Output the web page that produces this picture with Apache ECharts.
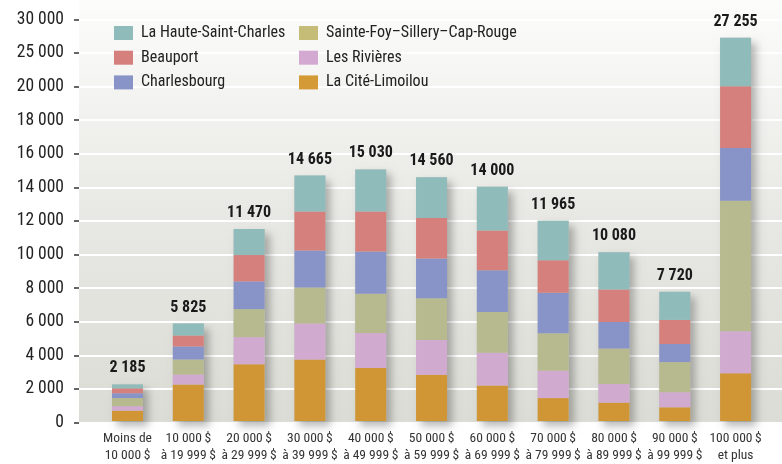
<!DOCTYPE html>
<html><head><meta charset="utf-8">
<script src="https://cdn.jsdelivr.net/npm/echarts@6/dist/echarts.min.js"></script>
<style>html,body{margin:0;padding:0;background:#fff}#c{width:782px;height:464px}</style>
</head><body><div id="c"></div>
<script>
const categories = ['Moins de\n10 000\u2009$','10 000\u2009$\nà 19 999\u2009$','20 000\u2009$\nà 29 999\u2009$','30 000\u2009$\nà 39 999\u2009$','40 000\u2009$\nà 49 999\u2009$','50 000\u2009$\nà 59 999\u2009$','60 000\u2009$\nà 69 999\u2009$','70 000\u2009$\nà 79 999\u2009$','80 000\u2009$\nà 89 999\u2009$','90 000\u2009$\nà 99 999\u2009$','100 000\u2009$\net plus'];
const totals = [2185, 5825, 11470, 14665, 15030, 14560, 14000, 11965, 10080, 7720, 27255];
// bottom to top
const laCiteLimoilou   = [620, 2180, 3390, 3680, 3160, 2770, 2120, 1370, 1100, 820, 2860];
const lesRivieres      = [270, 600, 1620, 2150, 2100, 2075, 1960, 1630, 1115, 900, 2500];
const sainteFoy        = [480, 895, 1675, 2150, 2340, 2490, 2435, 2240, 2115, 1800, 7800];
const charlesbourg     = [290, 780, 1655, 2210, 2520, 2370, 2495, 2420, 1585, 1080, 3150];
const beauport         = [290, 655, 1575, 2330, 2400, 2430, 2375, 1940, 1935, 1440, 3690];
const hauteSaintCharles= [235, 715, 1555, 2145, 2510, 2425, 2615, 2365, 2230, 1680, 7255];
const yTickLabels = ['0','2 000','4 000','6 000','8 000','10 000','12 000','14 000','16 000','18 000','20 000','25 000','30 000'];

const seriesDefs = [
  {name:'La Cité-Limoilou', data:laCiteLimoilou, color:'#d09636', legend:'#d39a36'},
  {name:'Les Rivières', data:lesRivieres, color:'#d0aacf', legend:'#d3a9d2'},
  {name:'Sainte-Foy–Sillery–Cap-Rouge', data:sainteFoy, color:'#b7b98f', legend:'#c5bc78'},
  {name:'Charlesbourg', data:charlesbourg, color:'#8893c7', legend:'#8893c7'},
  {name:'Beauport', data:beauport, color:'#d5807c', legend:'#d5807c'},
  {name:'La Haute-Saint-Charles', data:hauteSaintCharles, color:'#8fbbbb', legend:'#8fbbbb'}
];
// broken scale: above 20 000, 5 000 units take the space of 2 000
function T(v){ return v <= 20000 ? v : 20000 + (v - 20000) * 0.4; }
function fmt(v){ return String(Math.round(v)).replace(/\B(?=(\d{3})+(?!\d))/g, ' '); }

const FONT = '"Roboto Condensed","Open Sans",sans-serif';
const cum = categories.map(()=>0);
const series = [];
series.push({
  type:'bar', name:'_total', xAxisIndex:0, yAxisIndex:0, barWidth:31, barGap:'-100%', z:1,
  data: totals.map(t=>T(t)),
  itemStyle:{color:'#c8c8c2', shadowBlur:8, shadowOffsetX:5, shadowOffsetY:5, shadowColor:'rgba(0,0,0,0.28)'},
  label:{show:true, position:'top', distance:8, fontFamily:FONT, fontSize:16, fontWeight:'bold', color:'#1a1a1a',
         formatter:p=>fmt(totals[p.dataIndex])},
  silent:true
});
seriesDefs.forEach(s=>{
  const d = s.data.map((v,i)=>{ const a=T(cum[i]); cum[i]+=v; return T(cum[i])-a; });
  series.push({type:'bar', name:s.name, stack:'a', xAxisIndex:0, yAxisIndex:0, barWidth:31, barGap:'-100%', z:2,
    data:d, itemStyle:{color:s.color}});
});

const legendItem = s => ({name:s.name, itemStyle:{color:s.legend}});
const chart = echarts.init(document.getElementById('c'), null, {renderer:'canvas'});
chart.setOption({
  animation:false,
  backgroundColor:'#ffffff',
  graphic:[{type:'rect', z:-10, shape:{x:79, y:0, width:703, height:422.7},
    style:{fill:new echarts.graphic.LinearGradient(0,0,0,1,[{offset:0,color:'#fcfcfb'},{offset:0.5,color:'#e8e8e4'},{offset:1,color:'#dcdcd6'}])}}],
  legend:[
    {orient:'vertical', left:109, top:20, itemWidth:19, itemHeight:14, itemGap:8.7, icon:'rect',
     textStyle:{fontFamily:FONT, fontSize:16, color:'#222', padding:[0,0,0,3]},
     data:[seriesDefs[5],seriesDefs[4],seriesDefs[3]].map(legendItem)},
    {orient:'vertical', left:294, top:20, itemWidth:19, itemHeight:14, itemGap:8.7, icon:'rect',
     textStyle:{fontFamily:FONT, fontSize:16, color:'#222', padding:[0,0,0,3]},
     data:[seriesDefs[2],seriesDefs[1],seriesDefs[0]].map(legendItem)}
  ],
  grid:[
    {left:97.1, right:16, top:19.3, bottom:41.3},
    {left:79, right:0, top:19.3, bottom:41.3}
  ],
  xAxis:[
    {type:'category', gridIndex:0, data:categories, axisLine:{show:false}, axisTick:{show:false},
     axisLabel:{fontFamily:FONT, fontSize:13.5, color:'#333', lineHeight:17, margin:9, interval:0}},
    {type:'value', gridIndex:1, show:false}
  ],
  yAxis:[
    {type:'value', gridIndex:0, min:0, max:24000, interval:2000, show:false, splitLine:{show:false}},
    {type:'value', gridIndex:1, min:0, max:24000, interval:2000,
     axisLine:{show:false}, axisTick:{show:true, length:5, lineStyle:{color:'#333', width:1.5}},
     axisLabel:{fontFamily:FONT, fontSize:17.5, color:'#222', margin:15, formatter:v=>yTickLabels[Math.round(v/2000)]},
     splitLine:{show:true, lineStyle:{color:'#ffffff', width:2}}, z:0}
  ],
  series: series
});
</script></body></html>
